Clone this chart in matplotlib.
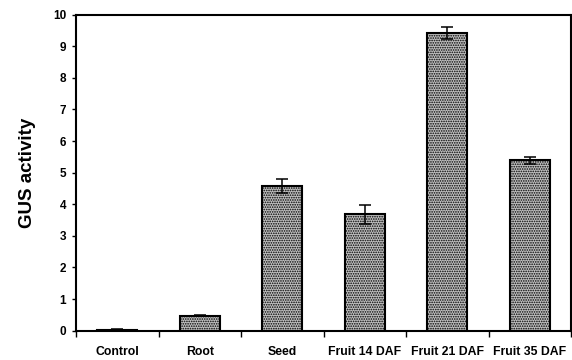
import numpy as np
import matplotlib.pyplot as plt
from matplotlib.ticker import FixedLocator

plt.rcParams['font.family'] = ['Liberation Sans', 'DejaVu Sans']
plt.rcParams['hatch.color'] = '#404040'
plt.rcParams['hatch.linewidth'] = 0.8

# data
tissues = ['Control', 'Root', 'Seed', 'Fruit 14 DAF', 'Fruit 21 DAF', 'Fruit 35 DAF']
gus = [0.03, 0.48, 4.59, 3.68, 9.41, 5.39]
err = [0.01, 0.02, 0.22, 0.30, 0.19, 0.12]

fig = plt.figure(figsize=(5.72, 3.6), dpi=100)
ax = fig.add_axes([0.1329, 0.0814, 0.8654, 0.8778])

x = np.arange(len(tissues))
ax.bar(x, gus, width=0.48, color='#c0c0c0', edgecolor='black', linewidth=1.5,
       hatch='.......', yerr=err, capsize=4,
       error_kw=dict(elinewidth=1.1, capthick=1.1, ecolor='black'))

ax.set_xlim(-0.5, len(tissues) - 0.5)
ax.set_ylim(0, 10)
ax.set_yticks(range(0, 11))
ax.set_xticks(x)
ax.set_xticklabels(tissues, fontsize=8.8, fontweight='bold')
ax.tick_params(axis='x', which='major', length=0, pad=11)
ax.xaxis.set_minor_locator(FixedLocator(np.arange(-0.5, len(tissues), 1.0)))
ax.tick_params(axis='x', which='minor', length=4, width=1, direction='out')
ax.tick_params(axis='y', length=3, width=1, labelsize=8.5, pad=4)
for lab in ax.get_yticklabels():
    lab.set_fontweight('bold')
ax.set_ylabel('GUS activity', fontsize=13.5, fontweight='bold', labelpad=12)
for s in ax.spines.values():
    s.set_linewidth(1.5)

fig.savefig('out.png', dpi=100)
